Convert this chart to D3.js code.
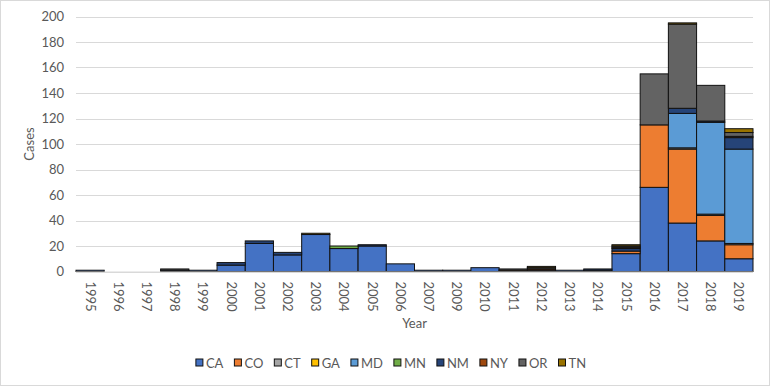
<!DOCTYPE html>
<html>
<head>
<meta charset="utf-8">
<script src="https://cdn.jsdelivr.net/npm/d3@7"></script>
<style>
  body { margin: 0; background: #fff; }
  text { font-family: Lato, "Open Sans", sans-serif; fill: #595959; }
</style>
</head>
<body>
<script>
// years on the x axis (no 2008 in the source)
var years = ["1995","1996","1997","1998","1999","2000","2001","2002","2003","2004","2005","2006",
             "2007","2009","2010","2011","2012","2013","2014","2015","2016","2017","2018","2019"];

var states = ["CA","CO","CT","GA","MD","MN","NM","NY","OR","TN"];
var colors = ["#4472C4","#ED7D31","#A5A5A5","#FFC000","#5B9BD5","#70AD47","#264478","#9E480E","#636363","#997300"];

// cases per state, one value per year
var caCases = [1,0,0,0,1,5,22,13,29,18,20,6,1,1,3,0,1,1,1,14,66,38,24,10];
var coCases = [0,0,0,0,0,0,0,0,0,0,0,0,0,0,0,0,0,0,0,2,49,58,20,11];
var ctCases = [0,0,0,0,0,0,0,0,0,0,0,0,0,0,0,0,0,0,0,0,0,1,1,1];
var gaCases = [0,0,0,0,0,0,0,0,0,0,0,0,0,0,0,0,0,0,0,0,0,0,0,0];
var mdCases = [0,0,0,0,0,0,0,0,0,0,0,0,0,0,0,0,0,0,0,0,0,27,72,74];
var mnCases = [0,0,0,0,0,0,0,0,0,2,0,0,0,0,0,0,0,0,0,0,0,0,0,0];
var nmCases = [0,0,0,1,0,2,2,2,0,0,1,0,0,0,0,0,0,0,1,2,0,4,1,9];
var nyCases = [0,0,0,0,0,0,0,0,0,0,0,0,0,0,0,1,1,0,0,1,0,0,0,1];
var orCases = [0,0,0,1,0,0,0,0,0,0,0,0,0,0,0,1,1,0,0,1,40,66,28,3];
var tnCases = [0,0,0,0,0,0,0,0,1,0,0,0,0,0,0,0,1,0,0,1,0,1,0,3];

var yTicks = [0,20,40,60,80,100,120,140,160,180,200];

var w = 770, h = 386;
var margin = {top: 16.5, right: 17, bottom: 114.5, left: 76};

var svg = d3.select("body").append("svg")
    .attr("width", w)
    .attr("height", h);

// chart border
svg.append("rect")
    .attr("x", 0.5).attr("y", 0.5)
    .attr("width", w - 1).attr("height", h - 1)
    .style("fill", "#fff")
    .style("stroke", "#d9d9d9");

// build table for the stack
var series = [caCases, coCases, ctCases, gaCases, mdCases, mnCases, nmCases, nyCases, orCases, tnCases];
var table = years.map(function(y, i){
    var row = {year: y};
    states.forEach(function(s, j){ row[s] = series[j][i]; });
    return row;
});
var stacked = d3.stack().keys(states)(table);

var x = d3.scaleBand()
    .domain(years)
    .range([margin.left, w - margin.right])
    .padding(0);

var y = d3.scaleLinear()
    .domain([0, 200])
    .range([h - margin.bottom, margin.top]);

var color = d3.scaleOrdinal().domain(states).range(colors);

// gridlines
svg.append("g")
    .selectAll("line")
    .data(yTicks)
    .enter()
    .append("line")
    .attr("x1", margin.left)
    .attr("x2", w - margin.right)
    .attr("y1", function(d){ return Math.round(y(d)) + 0.5; })
    .attr("y2", function(d){ return Math.round(y(d)) + 0.5; })
    .style("stroke", "#d9d9d9")
    .style("stroke-width", 1);

// y tick labels
svg.append("g")
    .selectAll("text")
    .data(yTicks)
    .enter()
    .append("text")
    .attr("x", 64)
    .attr("y", function(d){ return y(d); })
    .attr("dy", "0.35em")
    .attr("text-anchor", "end")
    .style("font-size", "13px")
    .text(function(d){ return d; });

// bars
svg.append("g")
    .selectAll("g")
    .data(stacked)
    .enter()
    .append("g")
    .style("fill", function(d){ return color(d.key); })
    .selectAll("rect")
    .data(function(d){ return d; })
    .enter()
    .append("rect")
    .filter(function(d){ return d[1] - d[0] > 0; })
    .attr("x", function(d){ return x(d.data.year); })
    .attr("width", x.bandwidth())
    .attr("y", function(d){ return y(d[1]); })
    .attr("height", function(d){ return y(d[0]) - y(d[1]); })
    .style("stroke", "#111")
    .style("stroke-width", 1);

// x axis line
svg.append("line")
    .attr("x1", margin.left)
    .attr("x2", w - margin.right)
    .attr("y1", y(0) + 0.5)
    .attr("y2", y(0) + 0.5)
    .style("stroke", "#d9d9d9");

// x tick labels, rotated
svg.append("g")
    .selectAll("text")
    .data(years)
    .enter()
    .append("text")
    .attr("transform", function(d){
        return "translate(" + (x(d) + x.bandwidth() / 2) + "," + (y(0) + 10) + ") rotate(90)";
    })
    .attr("dy", "0.35em")
    .attr("text-anchor", "start")
    .style("font-size", "13px")
    .text(function(d){ return d; });

// axis titles
svg.append("text")
    .attr("x", (margin.left + w - margin.right) / 2)
    .attr("y", 328)
    .attr("text-anchor", "middle")
    .style("font-size", "13px")
    .text("Year");

svg.append("text")
    .attr("transform", "translate(34," + ((margin.top + h - margin.bottom) / 2) + ") rotate(-90)")
    .attr("text-anchor", "middle")
    .style("font-size", "13px")
    .text("Cases");

// legend: lay out by measured text width, then center
var legend = svg.append("g");
var lx = 0;
states.forEach(function(s){
    var g = legend.append("g").attr("transform", "translate(" + lx + ",363)");
    g.append("rect")
        .attr("x", 0).attr("y", -4)
        .attr("width", 7).attr("height", 7)
        .style("fill", color(s))
        .style("stroke", "#111");
    var t = g.append("text")
        .attr("x", 10)
        .attr("y", 0)
        .attr("dy", "0.35em")
        .style("font-size", "13px")
        .text(s);
    lx += 10 + t.node().getComputedTextLength() + 11;
});
var legendW = lx - 11;
legend.attr("transform", "translate(" + (391 - legendW / 2) + ",0)");
</script>
</body>
</html>
